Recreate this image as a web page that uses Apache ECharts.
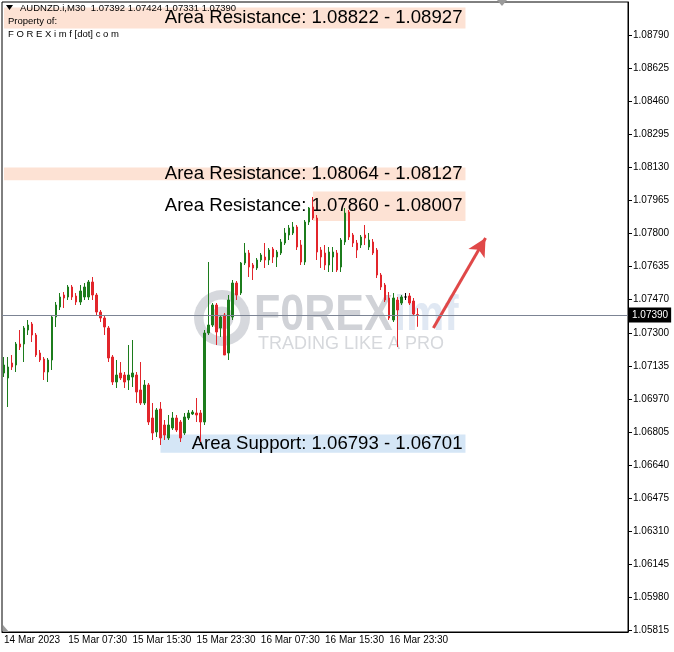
<!DOCTYPE html>
<html><head><meta charset="utf-8">
<script src="https://cdn.jsdelivr.net/npm/echarts@6/dist/echarts.min.js"></script>
<style>html,body{margin:0;padding:0;background:#fff}#c{width:674px;height:652px}</style>
</head><body><div id="c"></div>
<script>
const symbolName = 'AUDNZD.i,M30';
const yTickLabels = ['1.05815','1.05980','1.06145','1.06310','1.06475','1.06640','1.06805','1.06970','1.07135','1.07300','1.07470','1.07635','1.07800','1.07965','1.08130','1.08295','1.08460','1.08625','1.08790'];
const xTickLabels = ['14 Mar 2023','15 Mar 07:30','15 Mar 15:30','15 Mar 23:30','16 Mar 07:30','16 Mar 15:30','16 Mar 23:30'];
const xTickIndex = [0,16,32,48,64,80,96];
const currentPrice = 1.07390;

const opens = [
1.07100,1.07075,1.07150,1.07140,1.07245,1.07245,1.07315,1.07345,1.07290,1.07200,
1.07170,1.07105,1.07165,1.07380,1.07430,1.07490,1.07480,1.07530,1.07485,1.07455,
1.07480,1.07480,1.07555,1.07490,1.07405,1.07375,1.07325,1.07180,1.07055,1.07100,
1.07090,1.07065,1.07080,1.07090,1.07015,1.06950,1.07040,1.06875,1.06805,1.06920,
1.06840,1.06775,1.06825,1.06875,1.06855,1.06800,1.06875,1.06895,1.06900,1.06900,
1.06855,1.07300,1.07340,1.07440,1.07325,1.07390,1.07200,1.07380,1.07550,1.07500,
1.07650,1.07700,1.07640,1.07625,1.07665,1.07680,1.07665,1.07720,1.07680,1.07700,
1.07750,1.07790,1.07800,1.07830,1.07740,1.07655,1.07855,1.07930,1.07875,1.07715,
1.07700,1.07640,1.07680,1.07700,1.07630,1.07755,1.07905,1.07790,1.07750,1.07740,
1.07790,1.07730,1.07755,1.07715,1.07590,1.07540,1.07475,1.07365,1.07465,1.07450,
1.07480,1.07485,1.07460,1.07392];
const closes = [
1.07140,1.07130,1.07130,1.07245,1.07230,1.07325,1.07340,1.07290,1.07190,1.07165,
1.07105,1.07165,1.07380,1.07440,1.07480,1.07475,1.07530,1.07480,1.07455,1.07510,
1.07530,1.07555,1.07490,1.07405,1.07375,1.07330,1.07175,1.07055,1.07090,1.07075,
1.07055,1.07090,1.07100,1.07005,1.06950,1.07040,1.06855,1.06800,1.06915,1.06775,
1.06790,1.06840,1.06875,1.06815,1.06775,1.06880,1.06900,1.06905,1.06890,1.06855,
1.07300,1.07340,1.07440,1.07305,1.07380,1.07190,1.07465,1.07550,1.07490,1.07650,
1.07700,1.07630,1.07625,1.07665,1.07690,1.07665,1.07715,1.07680,1.07705,1.07755,
1.07800,1.07825,1.07830,1.07730,1.07655,1.07855,1.07925,1.07875,1.07705,1.07680,
1.07640,1.07705,1.07705,1.07615,1.07765,1.07900,1.07780,1.07750,1.07715,1.07780,
1.07775,1.07765,1.07700,1.07590,1.07530,1.07465,1.07375,1.07475,1.07415,1.07480,
1.07480,1.07450,1.07395,1.07390];
const lows = [
1.07080,1.06930,1.07115,1.07105,1.07215,1.07155,1.07290,1.07255,1.07180,1.07155,
1.07065,1.07055,1.07115,1.07330,1.07415,1.07425,1.07465,1.07465,1.07440,1.07440,
1.07465,1.07465,1.07465,1.07390,1.07355,1.07290,1.07155,1.07040,1.07025,1.07065,
1.07025,1.07015,1.07030,1.06950,1.06940,1.06940,1.06840,1.06765,1.06780,1.06740,
1.06765,1.06765,1.06815,1.06805,1.06755,1.06790,1.06865,1.06890,1.06855,1.06755,
1.06840,1.07290,1.07330,1.07240,1.07280,1.07190,1.07165,1.07365,1.07465,1.07490,
1.07640,1.07580,1.07565,1.07615,1.07655,1.07625,1.07640,1.07650,1.07630,1.07690,
1.07740,1.07765,1.07790,1.07715,1.07640,1.07640,1.07840,1.07865,1.07665,1.07625,
1.07615,1.07605,1.07605,1.07605,1.07605,1.07740,1.07765,1.07730,1.07675,1.07725,
1.07740,1.07715,1.07690,1.07575,1.07515,1.07455,1.07365,1.07355,1.07230,1.07440,
1.07465,1.07440,1.07385,1.07331];
const highs = [
1.07180,1.07180,1.07190,1.07255,1.07315,1.07335,1.07365,1.07355,1.07300,1.07215,
1.07180,1.07175,1.07390,1.07455,1.07500,1.07505,1.07540,1.07540,1.07500,1.07540,
1.07550,1.07565,1.07580,1.07500,1.07415,1.07385,1.07335,1.07190,1.07165,1.07155,
1.07105,1.07240,1.07265,1.07105,1.07155,1.07065,1.07050,1.06950,1.06925,1.06955,
1.06865,1.06890,1.06905,1.06890,1.06865,1.06900,1.06915,1.06915,1.06975,1.06915,
1.07315,1.07655,1.07450,1.07450,1.07390,1.07400,1.07490,1.07565,1.07560,1.07655,
1.07750,1.07715,1.07650,1.07675,1.07700,1.07750,1.07725,1.07730,1.07715,1.07770,
1.07825,1.07840,1.07855,1.07840,1.07765,1.07865,1.07930,1.07980,1.07890,1.07730,
1.07740,1.07730,1.07730,1.07715,1.07775,1.07925,1.07915,1.07800,1.07765,1.07790,
1.07840,1.07800,1.07770,1.07725,1.07600,1.07550,1.07505,1.07500,1.07480,1.07490,
1.07500,1.07500,1.07475,1.07424];

const zoneLabels = ['Area Resistance: 1.08822 - 1.08927','Area Resistance: 1.08064 - 1.08127','Area Resistance: 1.07860 - 1.08007','Area Support: 1.06793 - 1.06701'];
const zoneLow  = [1.08822, 1.08064, 1.07860, 1.06701];
const zoneHigh = [1.08927, 1.08127, 1.08007, 1.06793];
const zoneKind = ['res','res','res','sup'];
const zoneStartBar = [0, 0, 77, 39];
const zoneEndBar = 115;
const arrowFrom = [107, 1.07325];
const arrowTo = [120, 1.07775];

const totalSlots = 156;
const months = ['Jan','Feb','Mar','Apr','May','Jun','Jul','Aug','Sep','Oct','Nov','Dec'];
const categories = [];
const t0 = Date.UTC(2023, 2, 14, 23, 30);
for (let i = 0; i < totalSlots; i++) {
  const d = new Date(t0 + i * 1800000);
  categories.push(d.getUTCDate() + ' ' + months[d.getUTCMonth()] + ' ' +
    String(d.getUTCHours()).padStart(2, '0') + ':' + String(d.getUTCMinutes()).padStart(2, '0'));
}

const GREEN = '#1c7c1c', RED = '#e2252b';
const candleData = opens.map((o, i) => {
  const v = [o, closes[i], lows[i], highs[i]];
  if (o === closes[i]) return { value: v, itemStyle: { color: '#000', borderColor: '#000', color0: '#000', borderColor0: '#000' } };
  return v;
});
const yTickValues = yTickLabels.map(Number);
const last = opens.length - 1;
const FONT = 'Liberation Sans';

const chart = echarts.init(document.getElementById('c'), null, { renderer: 'canvas' });
chart.setOption({
  animation: false,
  backgroundColor: '#fff',
  grid: { left: 2, right: 46, top: 2, bottom: 20, show: true, borderColor: '#000', borderWidth: 1 },
  xAxis: {
    type: 'category', data: categories, boundaryGap: true,
    axisLine: { lineStyle: { color: '#000', width: 1 } },
    axisTick: { alignWithLabel: true, length: 4, interval: (i) => xTickIndex.includes(i), lineStyle: { color: '#000' } },
    axisLabel: { interval: (i) => xTickIndex.includes(i), formatter: (v, i) => xTickLabels[xTickIndex.indexOf(i)],
      align: 'left', margin: 3, color: '#000', fontSize: 10, fontFamily: FONT },
    splitLine: { show: false }
  },
  yAxis: {
    type: 'value', position: 'right', min: 1.05805, max: 1.08955,
    axisLine: { show: true, lineStyle: { color: '#000' } },
    axisTick: { show: true, length: 4, customValues: yTickValues, lineStyle: { color: '#000' } },
    axisLabel: { customValues: yTickValues, formatter: (v) => v.toFixed(5), margin: 5, color: '#000', fontSize: 10, fontFamily: FONT },
    splitLine: { show: false }
  },
  graphic: [
    { type: 'circle', shape: { cx: 222, cy: 318, r: 28 }, style: { fill: '#d6d8dd' }, z: 0 },
    { type: 'circle', shape: { cx: 222, cy: 318, r: 15 }, style: { fill: 'none', stroke: '#fff', lineWidth: 7 }, z: 0 },
    { type: 'text', x: 254, y: 291, scaleX: 0.86, style: { text: 'F0REX', fill: '#d0d2d7', font: 'bold 50px "Liberation Sans"' }, z: 0 },
    { type: 'text', x: 394, y: 291, scaleX: 0.86, style: { text: 'imf', fill: '#e0e8f3', font: 'bold 50px "Liberation Sans"' }, z: 0 },
    { type: 'text', left: 258, top: 335, style: { text: 'TRADING LIKE A PRO', fill: '#d6d8dc', font: '18px "Liberation Sans"' }, z: 0 },
    { type: 'polygon', shape: { points: [[6, 5], [13, 5], [9.5, 10]] }, style: { fill: '#000' }, z: 100 },
    { type: 'text', left: 20, top: 3, style: { text: symbolName + '  ' + [opens[last], highs[last], lows[last], closes[last]].map(v => v.toFixed(5)).join(' '), fill: '#000', font: '9.5px "Liberation Sans"' }, z: 100 },
    { type: 'text', left: 8, top: 16, style: { text: 'Property of:', fill: '#000', font: '9.5px "Liberation Sans"' }, z: 100 },
    { type: 'text', left: 8, top: 29, style: { text: 'F O R E X i m f [dot] c o m', fill: '#000', font: '9.5px "Liberation Sans"' }, z: 100 },
    { type: 'polygon', shape: { points: [[497, 0], [507, 0], [502, 6]] }, style: { fill: '#9a9a9a' }, z: 100 },
    { type: 'polygon', shape: { points: [[3, 625], [3, 632], [9, 632]] }, style: { fill: '#9a9a9a' }, z: 100 }
  ],
  series: [{
    type: 'candlestick', data: candleData, barWidth: 2,
    itemStyle: { color: GREEN, color0: RED, borderColor: GREEN, borderColor0: RED, borderWidth: 1 },
    markArea: {
      silent: true,
      label: { position: 'insideRight', distance: 3, color: '#000', fontSize: 18.6, fontFamily: FONT },
      data: zoneLabels.map((name, i) => [
        { name: name, xAxis: zoneStartBar[i], yAxis: zoneLow[i], itemStyle: { color: zoneKind[i] === 'res' ? '#fde2d4' : '#d5e6f6' } },
        { xAxis: zoneEndBar, yAxis: zoneHigh[i] }
      ])
    },
    markLine: {
      silent: true, precision: 5, symbol: ['none', 'arrow'], symbolSize: [14, 18],
      data: [[
        { coord: arrowFrom, lineStyle: { color: '#e04848', width: 3, type: 'solid' }, label: { show: false } },
        { coord: arrowTo }
      ]]
    }
  }, {
    type: 'line', data: [], silent: true,
    markLine: {
      silent: true, precision: 5, symbol: ['none', 'none'],
      lineStyle: { color: '#7c8494', width: 1, type: 'solid' },
      label: { position: 'end', formatter: currentPrice.toFixed(5), backgroundColor: '#000', color: '#fff', padding: [3, 3, 2, 3], fontSize: 10, fontFamily: FONT, distance: 1 },
      data: [{ yAxis: currentPrice }]
    }
  }]
});
</script></body></html>
